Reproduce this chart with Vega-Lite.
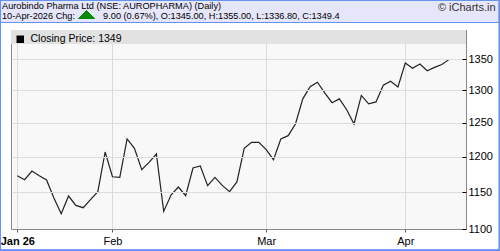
{
  "$schema": "https://vega.github.io/schema/vega-lite/v6.json",
  "width": 455,
  "height": 199,
  "autosize": {"type": "none"},
  "padding": {"left": 11, "top": 30, "right": 34, "bottom": 22},
  "background": "#ffffff",
  "config": {
    "font": "Liberation Sans",
    "view": {"fill": "#f8f8f8", "stroke": "#888888", "strokeWidth": 1}
  },
  "title": {
    "text": ["Aurobindo Pharma Ltd (NSE: AUROPHARMA) (Daily)", "10-Apr-2026 Chg:\u00a0\u00a0\u00a0\u00a0\u00a0\u00a0\u00a0\u00a0\u00a0\u00a0\u00a09.00 (0.67%), O:1345.00, H:1355.00, L:1336.80, C:1349.4"],
    "anchor": "start",
    "frame": "group",
    "orient": "top",
    "fontSize": 9.2,
    "fontWeight": "normal",
    "color": "#000000",
    "lineHeight": 10,
    "offset": 10,
    "dx": -9,
    "dy": 43.5
  },
  "data": {
    "values": [
      {"i": 0, "date": "2026-01-12", "close": 1172.9},
      {"i": 1, "date": "2026-01-13", "close": 1167.3},
      {"i": 2, "date": "2026-01-14", "close": 1179.6},
      {"i": 3, "date": "2026-01-16", "close": 1172.9},
      {"i": 4, "date": "2026-01-19", "close": 1166.9},
      {"i": 5, "date": "2026-01-20", "close": 1141.9},
      {"i": 6, "date": "2026-01-21", "close": 1120.5},
      {"i": 7, "date": "2026-01-22", "close": 1144.6},
      {"i": 8, "date": "2026-01-23", "close": 1131.7},
      {"i": 9, "date": "2026-01-27", "close": 1128.6},
      {"i": 10, "date": "2026-01-28", "close": 1139.5},
      {"i": 11, "date": "2026-01-29", "close": 1150.6},
      {"i": 12, "date": "2026-01-30", "close": 1206.9},
      {"i": 13, "date": "2026-02-01", "close": 1171.5},
      {"i": 14, "date": "2026-02-02", "close": 1170.6},
      {"i": 15, "date": "2026-02-03", "close": 1226.0},
      {"i": 16, "date": "2026-02-04", "close": 1212.2},
      {"i": 17, "date": "2026-02-05", "close": 1181.5},
      {"i": 18, "date": "2026-02-06", "close": 1191.9},
      {"i": 19, "date": "2026-02-09", "close": 1204.0},
      {"i": 20, "date": "2026-02-10", "close": 1123.6},
      {"i": 21, "date": "2026-02-11", "close": 1146.0},
      {"i": 22, "date": "2026-02-12", "close": 1157.1},
      {"i": 23, "date": "2026-02-13", "close": 1145.0},
      {"i": 24, "date": "2026-02-16", "close": 1183.9},
      {"i": 25, "date": "2026-02-17", "close": 1186.7},
      {"i": 26, "date": "2026-02-18", "close": 1158.9},
      {"i": 27, "date": "2026-02-19", "close": 1170.6},
      {"i": 28, "date": "2026-02-20", "close": 1159.3},
      {"i": 29, "date": "2026-02-23", "close": 1150.6},
      {"i": 30, "date": "2026-02-24", "close": 1164.1},
      {"i": 31, "date": "2026-02-25", "close": 1212.2},
      {"i": 32, "date": "2026-02-26", "close": 1221.0},
      {"i": 33, "date": "2026-02-27", "close": 1221.0},
      {"i": 34, "date": "2026-03-02", "close": 1210.3},
      {"i": 35, "date": "2026-03-04", "close": 1195.8},
      {"i": 36, "date": "2026-03-05", "close": 1226.0},
      {"i": 37, "date": "2026-03-06", "close": 1230.9},
      {"i": 38, "date": "2026-03-09", "close": 1248.3},
      {"i": 39, "date": "2026-03-10", "close": 1286.7},
      {"i": 40, "date": "2026-03-11", "close": 1305.7},
      {"i": 41, "date": "2026-03-12", "close": 1312.8},
      {"i": 42, "date": "2026-03-13", "close": 1295.9},
      {"i": 43, "date": "2026-03-16", "close": 1280.8},
      {"i": 44, "date": "2026-03-17", "close": 1286.7},
      {"i": 45, "date": "2026-03-18", "close": 1270.0},
      {"i": 46, "date": "2026-03-19", "close": 1248.4},
      {"i": 47, "date": "2026-03-20", "close": 1292.1},
      {"i": 48, "date": "2026-03-23", "close": 1278.9},
      {"i": 49, "date": "2026-03-24", "close": 1282.0},
      {"i": 50, "date": "2026-03-25", "close": 1308.1},
      {"i": 51, "date": "2026-03-27", "close": 1314.4},
      {"i": 52, "date": "2026-03-30", "close": 1305.4},
      {"i": 53, "date": "2026-04-01", "close": 1343.5},
      {"i": 54, "date": "2026-04-02", "close": 1335.1},
      {"i": 55, "date": "2026-04-06", "close": 1341.9},
      {"i": 56, "date": "2026-04-07", "close": 1331.1},
      {"i": 57, "date": "2026-04-08", "close": 1336.4},
      {"i": 58, "date": "2026-04-09", "close": 1341.1},
      {"i": 59, "date": "2026-04-10", "close": 1349.4}
    ]
  },
  "layer": [
    {
      "mark": {"type": "rect", "fill": "#e6e6fa", "stroke": "#6495ed", "strokeWidth": 1},
      "encoding": {
        "x": {"datum": -3},
        "x2": {"datum": 67},
        "y": {"datum": 1410.7},
        "y2": {"datum": 1470}
      }
    },
    {
      "mark": {"type": "rect", "fill": null, "filled": false, "stroke": "#6495ed", "strokeWidth": 1},
      "encoding": {
        "x": {"datum": -2.295},
        "x2": {"datum": 65.874},
        "y": {"datum": 1071.9},
        "y2": {"datum": 1448.6}
      }
    },
    {
      "mark": {"type": "rect", "fill": "#e2e2e2"},
      "encoding": {
        "x": {"datum": -0.861},
        "x2": {"datum": 61.298},
        "y": {"datum": 1375.2},
        "y2": {"datum": 1398}
      }
    },
    {
      "mark": {"type": "point", "shape": "M-1,0.5L1,0.5L0,-0.5Z", "size": 256, "filled": true, "fill": "#0a8a0a", "stroke": null, "opacity": 1},
      "encoding": {
        "x": {"datum": 9.5},
        "y": {"datum": 1424.0}
      }
    },
    {
      "mark": {"type": "line", "strokeWidth": 1.2},
      "encoding": {
        "x": {
          "field": "i",
          "type": "quantitative",
          "scale": {"domain": [-0.861, 61.298], "nice": false, "zero": false},
          "axis": {
            "orient": "bottom",
            "values": [0, 13, 34, 53],
            "labelExpr": "datum.value == 0 ? 'Jan 26' : datum.value == 13 ? 'Feb' : datum.value == 34 ? 'Mar' : 'Apr'",
            "labelFontWeight": {"condition": {"test": "datum.value == 0", "value": "bold"}, "value": "normal"},
            "labelFlush": false,
            "labelOverlap": false,
            "labelFontSize": 11,
            "labelColor": "#000000",
            "labelPadding": 3,
            "grid": true,
            "gridColor": "#dcdcdc",
            "tickSize": 3,
            "tickColor": "#555555",
            "domain": false,
            "title": null
          }
        },
        "y": {
          "field": "close",
          "type": "quantitative",
          "scale": {"type": "log", "domain": [1100, 1398], "nice": false, "zero": false},
          "axis": {
            "orient": "right",
            "zindex": 1,
            "values": [1100, 1150, 1200, 1250, 1300, 1350],
            "format": "d",
            "grid": true,
            "gridColor": "#dcdcdc",
            "gridOpacity": {"condition": {"test": "datum.value == 1100", "value": 0}, "value": 1},
            "tickSize": -4,
            "tickColor": "#000000",
            "domain": false,
            "labelFontSize": 11,
            "labelColor": "#000000",
            "labelPadding": 6,
            "title": "© iCharts.in",
            "titleAngle": 0,
            "titleAlign": "right",
            "titleBaseline": "alphabetic",
            "titleX": 29,
            "titleY": -20,
            "titleFontSize": 11,
            "titleFontWeight": "normal",
            "titleColor": "#333333"
          }
        },
        "color": {
          "datum": "Closing Price: 1349",
          "scale": {"range": ["#222222"]},
          "legend": {
            "orient": "none",
            "legendX": 4,
            "legendY": 4,
            "title": null,
            "labelFontSize": 10.5,
            "labelColor": "#000000",
            "symbolType": "square",
            "symbolSize": 56,
            "labelOffset": 5,
            "padding": 0,
            "encode": {"symbols": {"update": {"fill": {"value": "#000000"}, "stroke": {"value": "#000000"}, "strokeWidth": {"value": 0}}}}
          }
        }
      }
    }
  ]
}
